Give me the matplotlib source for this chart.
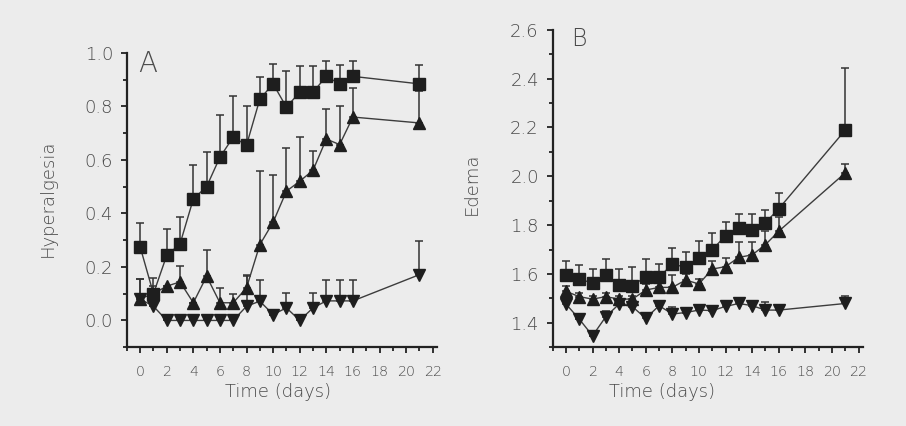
import matplotlib
matplotlib.use("Agg")
import matplotlib.pyplot as plt
from matplotlib.ticker import MultipleLocator
import numpy as np

days = [0, 1, 2, 3, 4, 5, 6, 7, 8, 9, 10, 11, 12, 13, 14, 15, 16, 21]

# Panel A: Hyperalgesia
a_sq = [0.275, 0.10, 0.243, 0.286, 0.454, 0.50, 0.61, 0.685, 0.655, 0.827, 0.884, 0.797, 0.853, 0.853, 0.912, 0.884, 0.912, 0.884]
a_sq_top = [0.365, 0.13, 0.34, 0.387, 0.58, 0.628, 0.766, 0.84, 0.80, 0.91, 0.959, 0.933, 0.949, 0.949, 0.97, 0.955, 0.97, 0.955]
a_up = [0.081, 0.10, 0.128, 0.144, 0.066, 0.165, 0.066, 0.066, 0.122, 0.283, 0.367, 0.483, 0.52, 0.561, 0.678, 0.657, 0.76, 0.738]
a_up_top = [0.153, 0.16, 0.128, 0.205, 0.066, 0.265, 0.123, 0.097, 0.169, 0.56, 0.542, 0.644, 0.685, 0.634, 0.79, 0.803, 0.87, 0.856]
a_dn = [0.08, 0.053, 0.0, 0.0, 0.0, 0.0, 0.0, 0.0, 0.053, 0.072, 0.022, 0.047, 0.0, 0.047, 0.073, 0.073, 0.073, 0.171]
a_dn_top = [0.153, 0.053, 0.0, 0.0, 0.0, 0.0, 0.0, 0.0, 0.165, 0.15, 0.022, 0.103, 0.0, 0.103, 0.15, 0.15, 0.15, 0.296]

# Panel B: Edema
b_sq = [1.597, 1.58, 1.562, 1.597, 1.555, 1.552, 1.589, 1.586, 1.641, 1.627, 1.666, 1.699, 1.757, 1.789, 1.778, 1.81, 1.867, 2.189]
b_sq_top = [1.652, 1.637, 1.62, 1.662, 1.62, 1.627, 1.662, 1.641, 1.705, 1.689, 1.737, 1.767, 1.812, 1.847, 1.844, 1.863, 1.933, 2.445]
b_up = [1.529, 1.507, 1.497, 1.507, 1.497, 1.497, 1.534, 1.545, 1.545, 1.575, 1.559, 1.62, 1.63, 1.668, 1.678, 1.72, 1.775, 2.014]
b_up_top = [1.55, 1.52, 1.51, 1.52, 1.51, 1.51, 1.56, 1.586, 1.597, 1.60, 1.58, 1.655, 1.666, 1.729, 1.729, 1.775, 1.833, 2.05]
b_dn = [1.477, 1.415, 1.347, 1.425, 1.477, 1.466, 1.418, 1.47, 1.436, 1.442, 1.452, 1.45, 1.467, 1.479, 1.47, 1.452, 1.452, 1.479]
b_dn_top = [1.49, 1.415, 1.347, 1.45, 1.49, 1.48, 1.44, 1.48, 1.466, 1.45, 1.46, 1.46, 1.475, 1.497, 1.49, 1.486, 1.46, 1.51]

BG = "#ececec"
TXT = "#4a4a4a"
plt.rcParams['font.family'] = ['DejaVu Sans']
plt.rcParams['font.weight'] = 'light'

W, H = 906, 426
fig = plt.figure(figsize=(W / 100, H / 100), dpi=100, facecolor=BG)
axA = fig.add_axes([0.140, 0.185, 0.342, 0.691])
axB = fig.add_axes([0.610, 0.185, 0.342, 0.745])


def draw(ax, series):
    x = np.array(days)
    for vals, tops, mk in series:
        v = np.array(vals)
        t = np.array(tops)
        err = np.clip(t - v, 0, None)
        ax.errorbar(x, v, yerr=[np.zeros_like(err), err], fmt='none',
                    ecolor='#333333', elinewidth=1.1, capsize=2.8, capthick=1.1, zorder=2)
        ax.plot(x, v, '-', color='#3c3c3c', lw=1.0, zorder=3)
        ax.plot(x, v, linestyle='none', marker=mk, ms=8.5 if mk == 's' else 9,
                mfc='#1e1e1e', mec='#1e1e1e', zorder=4)


draw(axA, [(a_sq, a_sq_top, 's'), (a_up, a_up_top, '^'), (a_dn, a_dn_top, 'v')])
draw(axB, [(b_sq, b_sq_top, 's'), (b_up, b_up_top, '^'), (b_dn, b_dn_top, 'v')])

for ax in (axA, axB):
    ax.set_facecolor(BG)
    for s in ('top', 'right'):
        ax.spines[s].set_visible(False)
    for s in ('left', 'bottom'):
        ax.spines[s].set_color('#222222')
        ax.spines[s].set_linewidth(1.6)
    ax.set_xlim(-1, 22.3)
    ax.set_xticks(range(0, 23, 2))
    ax.xaxis.set_minor_locator(MultipleLocator(1))
    ax.yaxis.set_minor_locator(MultipleLocator(0.1))
    ax.tick_params(which='both', direction='out', color='#222222', width=1.3)
    ax.tick_params(which='major', length=4)
    ax.tick_params(which='minor', length=3)
    ax.tick_params(axis='x', labelsize=10.3, labelcolor=TXT, pad=9)
    ax.tick_params(axis='y', labelsize=13, labelcolor=TXT, pad=6)

axA.set_ylim(-0.1, 1.0)
axA.set_yticks([0.0, 0.2, 0.4, 0.6, 0.8, 1.0])
axA.set_yticklabels(['0.0', '0.2', '0.4', '0.6', '0.8', '1.0'])
axA.text(0.035, 1.01, 'A', transform=axA.transAxes, fontsize=20, color=TXT, va='top', ha='left')

axB.set_ylim(1.3, 2.6)
axB.set_yticks([1.4, 1.6, 1.8, 2.0, 2.2, 2.4, 2.6])
axB.set_yticklabels(['1.4', '1.6', '1.8', '2.0', '2.2', '2.4', '2.6'])
axB.text(0.06, 1.01, 'B', transform=axB.transAxes, fontsize=17, color=TXT, va='top', ha='left')

# axis titles
fig.text(48 / W, 1 - 198 / H, 'Hyperalgesia', rotation=90, ha='center', va='center', fontsize=13, color=TXT)
fig.text(472 / W, 1 - 184 / H, 'Edema', rotation=90, ha='center', va='center', fontsize=13, color=TXT)
fig.text(278 / W, 1 - 397 / H, 'Time (days)', ha='center', va='baseline', fontsize=13, color=TXT)
fig.text(662 / W, 1 - 397 / H, 'Time (days)', ha='center', va='baseline', fontsize=13, color=TXT)

fig.savefig('out.png', dpi=100, facecolor=BG)
